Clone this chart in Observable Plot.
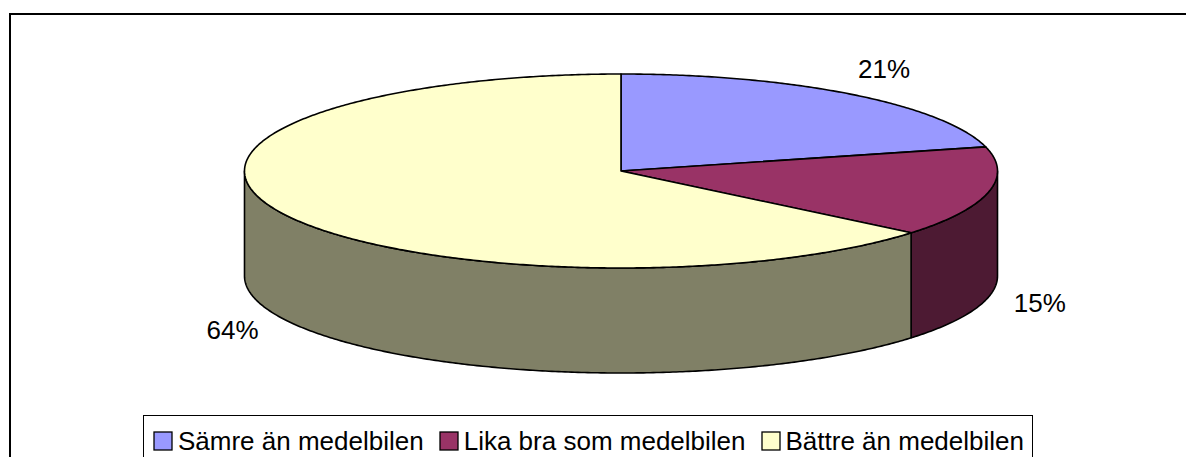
<!DOCTYPE html>
<html>
<head>
<meta charset="utf-8">
<script src="https://cdn.jsdelivr.net/npm/d3@7"></script>
<script src="https://cdn.jsdelivr.net/npm/@observablehq/plot@0.6"></script>
<style>
  html, body { margin: 0; padding: 0; background: #fff; overflow: hidden; }
  #wrap { position: relative; width: 1186px; height: 457px; overflow: hidden; background: #fff; }
  #frame { position: absolute; left: 9px; top: 13px; width: 1300px; height: 600px; border: 2px solid #000; box-sizing: border-box; }
  #chart { position: absolute; left: 0; top: 0; }
  #legend { position: absolute; left: 143px; top: 415px; border: 1px solid #000; background: #fff; padding: 0 8px 0 10px; height: 60px; box-sizing: border-box; }
  #legend .lg-swatches-wrap { min-height: 0; margin: 0; padding-top: 12px; display: flex; align-items: center; flex-wrap: nowrap; white-space: nowrap; }
  #legend .lg-swatch { margin-right: 16px; line-height: 26px; }
  #legend .lg-swatch:last-child { margin-right: 0; }
  #legend .lg-swatch > svg { margin-right: 6px; overflow: visible; }
  #legend .lg-swatch rect { stroke: #000; stroke-width: 1.3px; }
</style>
</head>
<body>
<div id="wrap">
  <div id="frame"></div>
  <div id="chart"></div>
  <div id="legend"></div>
</div>
<script>
// ---- data ----
const categories = ["Sämre än medelbilen", "Lika bra som medelbilen", "Bättre än medelbilen"];
const values = [21, 15, 64];
const labels = ["21%", "15%", "64%"];
const topColors = ["#9999FF", "#993366", "#FFFFCC"];
const sideColors = ["#4C4C80", "#4D1A33", "#808066"];

// ---- geometry (pie in unit radii: x = sin θ, y = cos θ) ----
const W = 1186, H = 457;
const cx = 620.5, cy = 170.5, rx = 376.5, ry = 97;
const depth = 105 / ry;           // side height in y units
const total = d3.sum(values);
const rad = Math.PI / 180;

let acc = 0;
const slices = values.map((v, i) => {
  const a0 = acc / total * 360;
  acc += v;
  const a1 = acc / total * 360;
  return {i, a0, a1, mid: (a0 + a1) / 2};
});

function arcPts(from, to, dy) {
  const pts = [];
  const n = Math.max(2, Math.ceil(Math.abs(to - from) * 2));
  for (let k = 0; k <= n; k++) {
    const t = (from + (to - from) * k / n) * rad;
    pts.push({x: Math.sin(t), y: Math.cos(t) + dy});
  }
  return pts;
}

// side walls (visible front half: 90°..270°)
const sides = [];
for (const s of slices) {
  const from = Math.max(s.a0, 90), to = Math.min(s.a1, 270);
  if (to > from) {
    const pts = [...arcPts(from, to, 0), ...arcPts(to, from, -depth)];
    pts.push(pts[0]);
    sides.push({i: s.i, pts});
  }
}
// top faces
const tops = slices.map(s => {
  const pts = [{x: 0, y: 0}, ...arcPts(s.a0, s.a1, 0), {x: 0, y: 0}];
  return {i: s.i, pts};
});

// labels
const labelData = slices.map(s => {
  const m = s.mid * rad;
  const front = Math.cos(m) < 0;
  return {
    label: labels[s.i],
    x: 1.14 * Math.sin(m),
    y: 1.32 * Math.cos(m) - (front ? depth : 0)
  };
});

const strokeOpts = {stroke: "#000", strokeWidth: 1.6, strokeLinejoin: "round", curve: "linear-closed"};

const chart = Plot.plot({
  width: W, height: H,
  margin: 0,
  style: {background: "transparent", overflow: "visible"},
  x: {domain: [-cx / rx, (W - cx) / rx], axis: null},
  y: {domain: [(cy - H) / ry, cy / ry], axis: null},
  marks: [
    ...sides.map(s => Plot.line(s.pts, {x: "x", y: "y", fill: sideColors[s.i], ...strokeOpts})),
    ...tops.map(s => Plot.line(s.pts, {x: "x", y: "y", fill: topColors[s.i], ...strokeOpts})),
    Plot.text(labelData, {x: "x", y: "y", text: "label", fontSize: 26, fill: "#000",
      fontFamily: "Liberation Sans, Arial, sans-serif", textAnchor: "middle", lineAnchor: "middle"})
  ]
});
document.getElementById("chart").appendChild(chart);

const legend = Plot.legend({
  legend: "swatches",
  color: {type: "categorical", domain: categories, range: topColors},
  swatchSize: 18,
  className: "lg",
  style: {fontFamily: "Liberation Sans, Arial, sans-serif", fontSize: "26px", color: "#000"}
});
document.getElementById("legend").appendChild(legend);
</script>
</body>
</html>
